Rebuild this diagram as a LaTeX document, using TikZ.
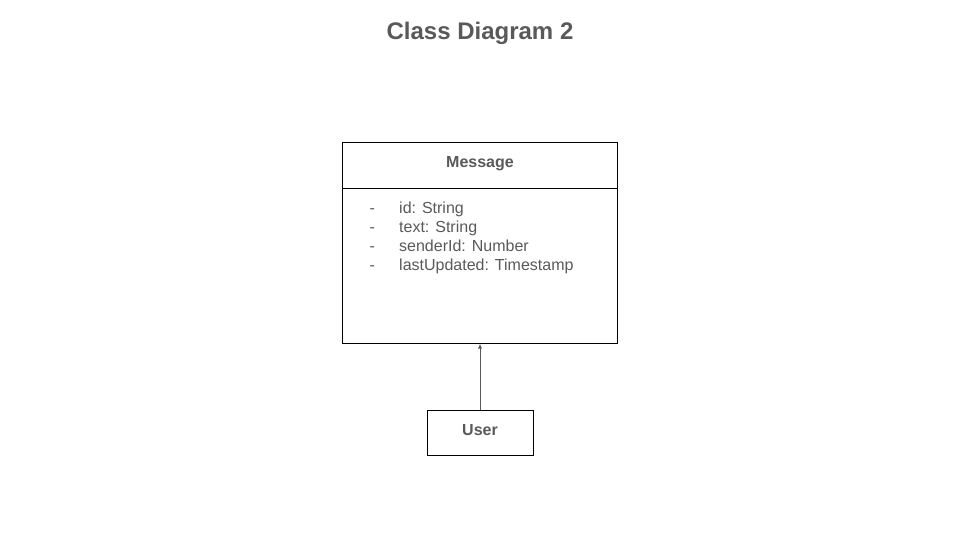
\documentclass[tikz,border=0pt]{standalone}
\usepackage{fontspec}
\setmainfont{Liberation Sans}
\usetikzlibrary{arrows.meta}
\definecolor{txt}{HTML}{595959}
\tikzset{
  classbox/.style={draw=black, line width=1pt, fill=none},
  lbl/.style={text=txt, inner sep=0pt, anchor=base, font=\fontsize{16}{19}\selectfont},
  blbl/.style={lbl, font=\fontsize{16}{19}\selectfont\bfseries},
  conn/.style={draw=txt, line width=1pt, -{Latex[length=5pt,width=4pt]}}
}
\begin{document}
\begin{tikzpicture}[x=1pt,y=-1pt]
\useasboundingbox (0,0) rectangle (960,540);
\node[lbl, font=\fontsize{24}{28}\selectfont\bfseries] (title) at (480,39.5) {Class Diagram 2};
% Message class
\coordinate (mtl) at (342.5,142.5);
\coordinate (mbr) at (617.5,343.5);
\draw[classbox] (mtl) rectangle (mbr);
\coordinate (dl) at (342.5,188.5);
\coordinate (dr) at (617.5,188.5);
\draw[black, line width=1pt] (dl) -- (dr);
\node[blbl] (mname) at (480,167.5) {Message};
\path (480,343.5) coordinate (mbot);
\node[lbl, anchor=base west] (d1) at (369.5,213) {-};
\node[lbl, anchor=base west] (a1) at (399,213) {id: String};
\node[lbl, anchor=base west] (d2) at (369.5,232.3) {-};
\node[lbl, anchor=base west] (a2) at (399,232.3) {text: String};
\node[lbl, anchor=base west] (d3) at (369.5,251.6) {-};
\node[lbl, anchor=base west] (a3) at (399,251.6) {senderId: Number};
\node[lbl, anchor=base west] (d4) at (369.5,270.9) {-};
\node[lbl, anchor=base west] (a4) at (399,270.9) {lastUpdated: Timestamp};
% User class
\node[classbox, minimum width=106pt, minimum height=45pt, inner sep=0pt] (user) at (480,432.5) {};
\node[blbl] (uname) at (480,435.5) {User};
\draw[conn] (user.north) -- (mbot);
\end{tikzpicture}
\end{document}
